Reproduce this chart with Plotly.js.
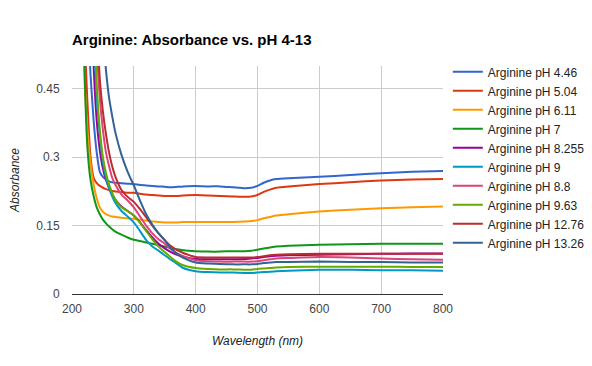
<!DOCTYPE html>
<html>
<head>
<meta charset="utf-8">
<script src="https://cdn.plot.ly/plotly-3.0.1.min.js"></script>
<style>html,body{margin:0;padding:0;background:#fff;}#chart{width:592px;height:366px;}</style>
</head>
<body>
<div id="chart"></div>
<script>
const wavelength = [215,220,225,230,235,240,245,250,255,260,265,270,280,290,300,310,320,330,340,350,360,370,380,400,420,440,460,480,490,500,510,520,530,550,600,650,700,750,800];

const seriesNames = ["Arginine pH 4.46","Arginine pH 5.04","Arginine pH 6.11","Arginine pH 7","Arginine pH 8.255","Arginine pH 9","Arginine pH 8.8","Arginine pH 9.63","Arginine pH 12.76","Arginine pH 13.26"];

const pH446 = [1.2,0.9,0.62,0.48,0.38,0.31,0.268,0.257,0.251,0.247,0.245,0.244,0.243,0.242,0.241,0.239,0.238,0.237,0.236,0.235,0.234,0.235,0.236,0.237,0.236,0.236,0.234,0.232,0.233,0.237,0.244,0.249,0.252,0.254,0.257,0.261,0.265,0.268,0.270];
const pH504 = [1.5,0.6,0.42,0.30,0.255,0.243,0.237,0.233,0.230,0.228,0.226,0.225,0.223,0.222,0.222,0.220,0.218,0.217,0.216,0.215,0.215,0.215,0.216,0.217,0.216,0.215,0.214,0.213,0.214,0.217,0.224,0.229,0.233,0.236,0.241,0.245,0.249,0.251,0.252];
const pH611 = [1.2,0.48,0.36,0.285,0.24,0.21,0.19,0.180,0.175,0.172,0.170,0.169,0.167,0.166,0.165,0.163,0.161,0.159,0.158,0.157,0.157,0.157,0.158,0.158,0.158,0.158,0.158,0.159,0.160,0.162,0.166,0.169,0.172,0.175,0.181,0.185,0.188,0.190,0.192];
const pH7 = [1.4,0.52,0.32,0.25,0.215,0.19,0.175,0.163,0.155,0.148,0.142,0.137,0.130,0.124,0.119,0.116,0.113,0.110,0.107,0.104,0.101,0.098,0.096,0.094,0.093,0.093,0.094,0.094,0.095,0.097,0.100,0.102,0.104,0.106,0.108,0.109,0.110,0.110,0.110];
const pH8255 = [3,1.8,1.1,0.72,0.50,0.38,0.315,0.275,0.25,0.232,0.218,0.207,0.192,0.182,0.172,0.157,0.14,0.124,0.110,0.100,0.092,0.086,0.082,0.077,0.076,0.076,0.076,0.077,0.078,0.079,0.081,0.083,0.084,0.085,0.086,0.087,0.088,0.089,0.089];
const pH9 = [3,2,1.3,0.85,0.58,0.43,0.35,0.29,0.255,0.232,0.214,0.200,0.182,0.170,0.157,0.138,0.118,0.104,0.095,0.085,0.075,0.066,0.057,0.050,0.048,0.047,0.047,0.046,0.046,0.047,0.048,0.049,0.050,0.051,0.053,0.053,0.052,0.052,0.051];
const pH88 = [4,2.8,1.9,1.25,0.85,0.55,0.43,0.36,0.31,0.28,0.255,0.24,0.218,0.205,0.19,0.170,0.15,0.133,0.120,0.110,0.098,0.089,0.083,0.074,0.072,0.071,0.071,0.071,0.071,0.072,0.074,0.076,0.078,0.079,0.081,0.080,0.078,0.076,0.075];
const pH963 = [3,2.2,1.5,0.95,0.65,0.46,0.36,0.30,0.265,0.24,0.222,0.207,0.19,0.182,0.172,0.156,0.138,0.120,0.104,0.092,0.080,0.070,0.063,0.057,0.055,0.054,0.054,0.053,0.053,0.055,0.056,0.057,0.058,0.059,0.060,0.060,0.060,0.059,0.059];
const pH1276 = [4,3,2.0,1.3,0.9,0.6,0.47,0.40,0.35,0.31,0.28,0.258,0.228,0.213,0.202,0.186,0.168,0.150,0.133,0.118,0.105,0.096,0.090,0.081,0.080,0.080,0.080,0.080,0.080,0.081,0.083,0.085,0.086,0.087,0.088,0.088,0.088,0.088,0.088];
const pH1326 = [6,4,2.8,1.9,1.3,0.9,0.7,0.57,0.49,0.43,0.39,0.355,0.305,0.268,0.238,0.205,0.175,0.152,0.133,0.118,0.100,0.088,0.079,0.069,0.067,0.066,0.065,0.065,0.065,0.066,0.068,0.069,0.070,0.070,0.071,0.070,0.070,0.069,0.069];

const seriesValues = [pH446,pH504,pH611,pH7,pH8255,pH9,pH88,pH963,pH1276,pH1326];
const colors = ["#3366cc","#dc3912","#ff9900","#109618","#990099","#0099c6","#dd4477","#66aa00","#b82e2e","#316395"];

const yTicks = [0,0.15,0.3,0.45];
const yTickText = ["0","0.15","0.3","0.45"];
const xTicks = [200,300,400,500,600,700,800];

const traces = seriesNames.map((n,i)=>({
  x: wavelength, y: seriesValues[i], name: n, type:'scatter', mode:'lines',
  line:{color:colors[i], width:2, shape:'spline', smoothing:0.5}
}));

const layout = {
  width:592, height:366,
  margin:{l:72, r:149, t:66, b:72, autoexpand:false},
  paper_bgcolor:'#fff', plot_bgcolor:'#fff',
  font:{family:'Liberation Sans, Arial, sans-serif', size:12, color:'#444'},
  title:{text:'<b>Arginine: Absorbance vs. pH 4-13</b>', x:72/592, xanchor:'left', y:1-40/366, yanchor:'middle', font:{size:15, color:'#000'}},
  xaxis:{range:[200,800], tickvals:xTicks, showgrid:true, gridcolor:'#ccc', zeroline:false,
    showline:true, linecolor:'#333', linewidth:1, ticks:'outside', ticklen:4, tickcolor:'rgba(0,0,0,0)', tickfont:{size:12,color:'#444'},
    title:{text:'<i>Wavelength (nm)</i>', font:{size:12,color:'#222'}, standoff:21}},
  yaxis:{range:[0,0.5], tickvals:yTicks, ticktext:yTickText, showgrid:true, gridcolor:'#ccc', zeroline:false,
    showline:false, ticks:'outside', ticklen:9, tickcolor:'rgba(0,0,0,0)', tickfont:{size:12,color:'#444'},
    title:{text:'<i>Absorbance</i>', font:{size:12,color:'#222'}, standoff:14}},
  legend:{x:1.013, xanchor:'left', y:1.038, yanchor:'top', font:{size:12,color:'#222'}, tracegroupgap:0, itemwidth:30, bgcolor:'rgba(0,0,0,0)', borderwidth:0, maxheight:330},
  showlegend:true
};

Plotly.newPlot('chart', traces, layout, {displayModeBar:false, staticPlot:true});
</script>
</body>
</html>
